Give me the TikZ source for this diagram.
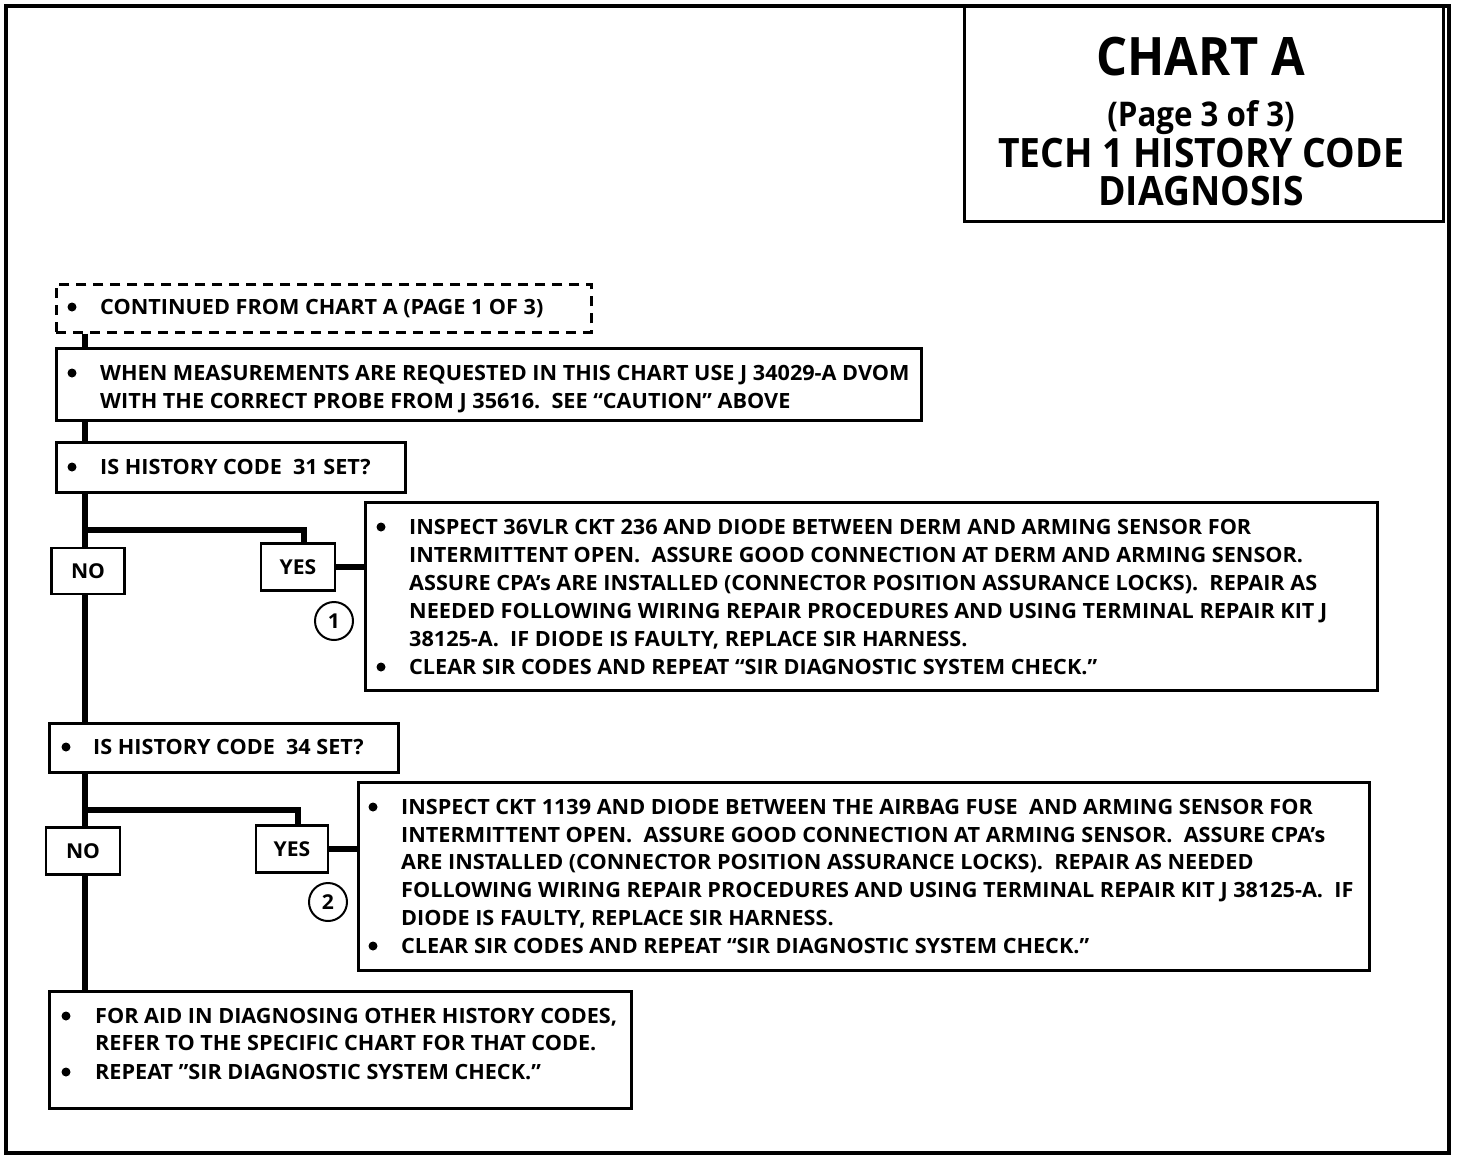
\documentclass[tikz,border=0pt]{standalone}
\usepackage{fontspec}
\newfontfamily\chartfont{Open Sans}[FakeStretch=1.03]
\newfontfamily\titlefont{Open Sans}[FakeStretch=0.92]
\usetikzlibrary{backgrounds}
\tikzset{
  box/.style={draw, line width=2.5pt, rectangle, inner sep=0pt, fill=white, anchor=north west},
  dbox/.style={box, dashed, dash pattern=on 10pt off 7pt},
  lbl/.style={draw, line width=2.5pt, rectangle, inner sep=0pt, fill=white, font=\chartfont\bfseries\fontsize{20.5}{24}\selectfont},
  txt/.style={anchor=base west, inner sep=0pt, font=\chartfont\bfseries\fontsize{21}{28}\selectfont},
  bul/.style={circle, fill=black, inner sep=0pt, minimum size=9pt},
  flow/.style={line width=5.5pt},
  num/.style={circle, draw, line width=2pt, minimum size=38pt, inner sep=0pt, font=\chartfont\bfseries\fontsize{20.5}{24}\selectfont},
  ttl/.style={inner sep=0pt, anchor=base},
}
\begin{document}
\begin{tikzpicture}[x=1pt,y=-1pt]
\useasboundingbox (0,0) rectangle (1472,1154);
% outer frame
\node[draw, line width=3.5pt, anchor=north west, minimum width=1443pt, minimum height=1147pt, inner sep=0pt] (frame) at (4,4) {};
% title box
\node[draw, line width=3pt, anchor=north west, minimum width=479pt, minimum height=216pt, inner sep=0pt] (title) at (963,4) {};
\node[ttl, font=\titlefont\bfseries\fontsize{53}{60}\selectfont] (t1) at (1201,75) {CHART A};
\node[ttl, font=\titlefont\bfseries\fontsize{34}{40}\selectfont] (t2) at (1201,126) {(Page 3 of 3)};
\node[ttl, font=\titlefont\bfseries\fontsize{40.5}{46}\selectfont] (t3) at (1201,167) {TECH 1 HISTORY CODE};
\node[ttl, font=\titlefont\bfseries\fontsize{40.5}{46}\selectfont] (t4) at (1201,205) {DIAGNOSIS};

% boxes
\node[dbox, minimum width=535pt, minimum height=48pt] (cont) at (55,283) {};
\node[box, minimum width=865pt, minimum height=72pt] (meas) at (55,347) {};
\node[box, minimum width=349pt, minimum height=50pt] (q31) at (55,441) {};
\node[box, minimum width=1012pt, minimum height=188pt] (act1) at (364,501) {};
\node[box, minimum width=349pt, minimum height=49pt] (q34) at (48,722) {};
\node[box, minimum width=1011pt, minimum height=188pt] (act2) at (357,781) {};
\node[box, minimum width=582pt, minimum height=117pt] (final) at (48,990) {};

% yes / no labels
\node[lbl, minimum width=73pt, minimum height=46pt] (no1) at (88,571) {NO};
\node[lbl, minimum width=74pt, minimum height=47pt] (yes1) at (298,567) {YES};
\node[lbl, minimum width=74pt, minimum height=47pt] (no2) at (83,851) {NO};
\node[lbl, minimum width=72pt, minimum height=47pt] (yes2) at (292,849) {YES};
\node[num] (n1) at (334,621) {1};
\node[num] (n2) at (328,902) {2};

% texts
\node[bul] (b0) at (72,307) {};
\node[txt] (c0) at (100,314) {CONTINUED FROM CHART A (PAGE 1 OF 3)};
\node[bul] (b1) at (72,373) {};
\node[txt] (m1) at (100,380) {WHEN MEASUREMENTS ARE REQUESTED IN THIS CHART USE J 34029-A DVOM};
\node[txt] (m2) at (100,408) {WITH THE CORRECT PROBE FROM J 35616.\ \ SEE “CAUTION” ABOVE};
\node[bul] (b2) at (72,467) {};
\node[txt] (q1) at (100,474) {IS HISTORY CODE\ \ 31 SET?};

\node[bul] (b3) at (381,527) {};
\node[txt] (a1) at (409,534) {INSPECT 36VLR CKT 236 AND DIODE BETWEEN DERM AND ARMING SENSOR FOR};
\node[txt] (a2) at (409,562) {INTERMITTENT OPEN.\ \ ASSURE GOOD CONNECTION AT DERM AND ARMING SENSOR.};
\node[txt] (a3) at (409,590) {ASSURE CPA’s ARE INSTALLED (CONNECTOR POSITION ASSURANCE LOCKS).\ \ REPAIR AS};
\node[txt] (a4) at (409,618) {NEEDED FOLLOWING WIRING REPAIR PROCEDURES AND USING TERMINAL REPAIR KIT J};
\node[txt] (a5) at (409,646) {38125-A.\ \ IF DIODE IS FAULTY, REPLACE SIR HARNESS.};
\node[bul] (b4) at (381,667) {};
\node[txt] (a6) at (409,674) {CLEAR SIR CODES AND REPEAT “SIR DIAGNOSTIC SYSTEM CHECK.”};

\node[bul] (b5) at (66,747) {};
\node[txt] (q2) at (93,754) {IS HISTORY CODE\ \ 34 SET?};

\node[bul] (b6) at (373,807) {};
\node[txt] (e1) at (401,814) {INSPECT CKT 1139 AND DIODE BETWEEN THE AIRBAG FUSE\ \ AND ARMING SENSOR FOR};
\node[txt] (e2) at (401,842) {INTERMITTENT OPEN.\ \ ASSURE GOOD CONNECTION AT ARMING SENSOR.\ \ ASSURE CPA’s};
\node[txt] (e3) at (401,869) {ARE INSTALLED (CONNECTOR POSITION ASSURANCE LOCKS).\ \ REPAIR AS NEEDED};
\node[txt] (e4) at (401,897) {FOLLOWING WIRING REPAIR PROCEDURES AND USING TERMINAL REPAIR KIT J 38125-A.\ \ IF};
\node[txt] (e5) at (401,925) {DIODE IS FAULTY, REPLACE SIR HARNESS.};
\node[bul] (b7) at (373,946) {};
\node[txt] (e6) at (401,953) {CLEAR SIR CODES AND REPEAT “SIR DIAGNOSTIC SYSTEM CHECK.”};

\node[bul] (b8) at (66,1016) {};
\node[txt] (f1) at (95,1023) {FOR AID IN DIAGNOSING OTHER HISTORY CODES,};
\node[txt] (f2) at (95,1050) {REFER TO THE SPECIFIC CHART FOR THAT CODE.};
\node[bul] (b9) at (66,1072) {};
\node[txt] (f3) at (95,1079) {REPEAT ”SIR DIAGNOSTIC SYSTEM CHECK.”};

% connectors
\coordinate (spine) at (85,0);
\coordinate (br1) at (85,530);
\coordinate (br2) at (85,810);
\coordinate (drop1) at (304,0);
\coordinate (drop2) at (298,0);
\begin{scope}[on background layer]
\draw[flow] (cont.south -| spine) -- (final.north -| spine);
\draw[flow] (br1) -| (yes1.north -| drop1);
\draw[flow] (br2) -| (yes2.north -| drop2);
\draw[flow] (yes1.east) -- (yes1.east -| act1.west);
\draw[flow] (yes2.east) -- (yes2.east -| act2.west);
\end{scope}
\end{tikzpicture}
\end{document}
